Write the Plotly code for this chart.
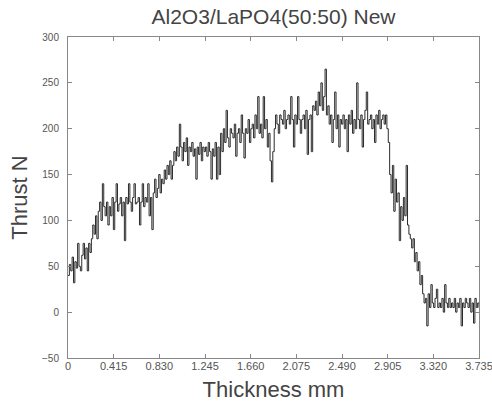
import numpy as np
import plotly.graph_objects as go

# Thrust readings (N), sampled evenly along the thickness 0 .. 3.735 mm
thrust = [
    40, 52, 45, 60, 32, 55, 48, 75, 50, 45,
    62, 75, 58, 70, 45, 75, 65, 80, 95, 85,
    105, 80, 110, 120, 100, 140, 115, 105, 120, 95,
    115, 105, 125, 90, 120, 140, 110, 118, 125, 105,
    120, 78, 125, 118, 140, 120, 110, 125, 140, 118,
    120, 125, 95, 120, 140, 115, 125, 120, 140, 105,
    125, 90, 130, 145, 125, 135, 150, 130, 145, 140,
    155, 145, 160, 150, 165, 145, 160, 175, 165, 180,
    170, 205, 180, 165, 185, 175, 190, 160, 180, 175,
    185, 170, 178, 145, 180, 172, 185, 165, 180, 175,
    180, 170, 185, 175, 145, 178, 170, 185, 145, 180,
    150, 195, 175, 200, 185, 220, 190, 180, 200, 195,
    190, 205, 170, 195, 200, 185, 215, 195, 168, 200,
    195, 210, 185, 200, 205, 190, 215, 200, 235, 195,
    205, 190, 235, 200, 210, 180, 195, 165, 142, 175,
    200, 215, 205, 195, 215, 210, 205, 220, 200, 210,
    215, 205, 235, 210, 180, 215, 205, 235, 210, 195,
    210, 215, 200, 220, 172, 210, 215, 175, 225, 220,
    230, 215, 240, 225, 250, 220, 235, 265, 215, 225,
    205, 215, 185, 210, 240, 200, 215, 180, 210, 205,
    215, 200, 210, 175, 215, 205, 220, 195, 210, 200,
    250, 210, 200, 215, 180, 210, 220, 240, 205, 210,
    215, 200, 210, 185, 215, 205, 220, 200, 210, 215,
    205, 215, 200, 185, 150, 130, 160, 110, 145, 120,
    130, 78, 115, 100, 125, 105, 160, 95, 85, 80,
    70, 80, 55, 65, 45, 55, 30, 40, 20, 10,
    15, -15, 20, 5, 30, 10, 5, 15, 25, 5,
    10, 5, 15, 0, 30, 10, 5, 15, 5, 10,
    5, 15, 0, 10, 5, 15, -15, 10, 5, 15,
    10, 5, 15, 0, 10, -12, 15, 5, 10, 5,
]
max_thickness = 3.735
thickness = np.arange(len(thrust)) * (max_thickness / (len(thrust) - 1))

x_tick_vals = [0, 0.415, 0.830, 1.245, 1.660, 2.075, 2.490, 2.905, 3.320, 3.735]
x_tick_text = ["0", "0.415", "0.830", "1.245", "1.660", "2.075", "2.490", "2.905", "3.320", "3.735"]
y_tick_vals = [-50, 0, 50, 100, 150, 200, 250, 300]

fig = go.Figure()
fig.add_trace(go.Scatter(
    x=thickness, y=thrust, mode="lines",
    line=dict(color="#2a2a2a", width=1, shape="hv"),
    showlegend=False,
))

font_family = "Liberation Sans, Arial, sans-serif"
fig.update_layout(
    width=492, height=402,
    margin=dict(l=68, r=13, t=37, b=44, autoexpand=False),
    paper_bgcolor="white", plot_bgcolor="white",
    font=dict(family=font_family, color="#444"),
    title=dict(text="Al2O3/LaPO4(50:50) New", x=0.5, xanchor="center",
               y=1 - 17 / 402, yanchor="middle", xref="paper",
               font=dict(size=21, color="#444")),
    xaxis=dict(
        range=[0, max_thickness], tickvals=x_tick_vals, ticktext=x_tick_text,
        automargin=False, ticklabeloverflow="allow", ticklabelstandoff=-2,
        showgrid=False, zeroline=False, showline=True, mirror="ticks",
        linecolor="#888", linewidth=1, ticks="inside", ticklen=4,
        tickcolor="#888", tickfont=dict(size=11, color="#555"),
        title=dict(text="Thickness mm", font=dict(size=22, color="#444"), standoff=10),
    ),
    yaxis=dict(
        range=[-50, 300], tickvals=y_tick_vals,
        automargin=False, ticklabelstandoff=6,
        showgrid=False, zeroline=False, showline=True, mirror="ticks",
        linecolor="#888", linewidth=1, ticks="inside", ticklen=4,
        tickcolor="#888", tickfont=dict(size=10, color="#555"),
        title=dict(text="Thrust N", font=dict(size=22, color="#444"), standoff=8),
    ),
)

fig.write_html("out.html")
